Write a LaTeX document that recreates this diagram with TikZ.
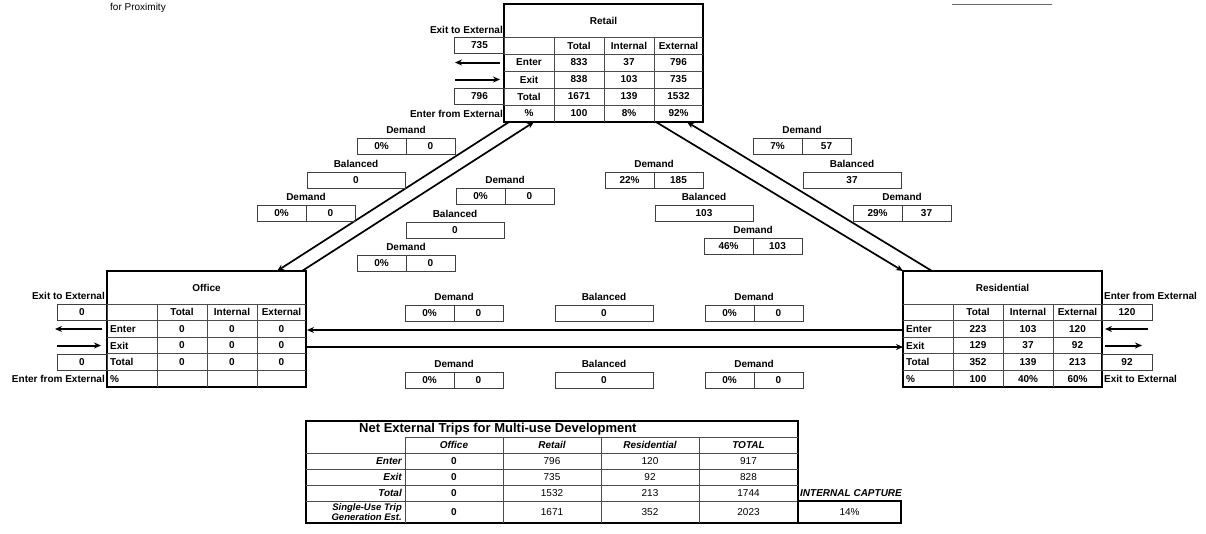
\documentclass[tikz,border=0pt]{standalone}
\usepackage{fontspec}
\setmainfont{Liberation Sans}
\usetikzlibrary{positioning,arrows.meta}

\newcommand{\tabfont}{\fontsize{10}{12}\selectfont\bfseries}
\newcommand{\lblfont}{\fontsize{10}{12}\selectfont\bfseries}
\newcommand{\numfont}{\fontsize{10}{12}\selectfont}

\tikzset{
  cell/.style={font=\tabfont, inner sep=0pt},
  lbl/.style={font=\lblfont, inner sep=0pt},
  frame/.style={line width=1.8pt},
  gridln/.style={line width=0.8pt, black!70},
  half/.style={draw=black!75, line width=0.8pt, minimum width=49pt, minimum height=16pt,
               inner sep=0pt, outer sep=0pt, font=\tabfont},
  full/.style={half, minimum width=98pt},
  flow/.style={-{Stealth[length=7pt,width=6pt]}, line width=1.7pt},
  extflow/.style={flow, line width=2pt},
}

% Demand box: name, left x, top y, share, trips
\newcommand{\demandpair}[5]{%
  \node[lbl] (#1t) at ({#2+49},{#3-8}) {Demand};
  \node[half, anchor=north west] (#1a) at (#2,#3) {#4};
  \node[half, right=0pt of #1a] (#1b) {#5};
}
% Balanced box: name, left x, top y, trips
\newcommand{\balancedbox}[4]{%
  \node[lbl] (#1t) at ({#2+49},{#3-8}) {Balanced};
  \node[full, anchor=north west] (#1a) at (#2,#3) {#4};
}
% frame of a land use table: left x, top y, row height
\newcommand{\usegrid}[3]{%
  \draw[frame] (#1,#2) rectangle ({#1+199},{#2+33+5*#3});
  \foreach \k in {0,...,4}
    \draw[gridln] (#1,{#2+33+\k*#3}) -- ({#1+199},{#2+33+\k*#3});
  \foreach \k in {1,2,3}
    \draw[gridln] ({#1+\k*50},{#2+33}) -- ({#1+\k*50},{#2+33+5*#3});
}

\begin{document}
\begin{tikzpicture}[x=1pt, y=-1pt]
    \useasboundingbox (0,0) rectangle (1206,533);

    % Kopfzeile (oben abgeschnitten)
    \node[anchor=west, font=\fontsize{10}{12}\selectfont, inner sep=0pt] (prox) at (110,8) {for Proximity};
    \draw[black!60, line width=1.2pt] (952,4.5) -- (1052,4.5);

    % ---------------- Retail ----------------
    \usegrid{504}{4}{17}
    \node[cell] (rettitle) at (603.5,20.5) {Retail};
    \foreach \lab/\a/\b/\c [count=\i from 0] in
      {{}/Total/Internal/External, Enter/833/37/796, Exit/838/103/735,
       Total/1671/139/1532, \%/100/8\%/92\%} {
      \node[cell] (ret-\i-0) at (529,{45.5+17*\i}) {\lab};
      \node[cell] (ret-\i-1) at (579,{45.5+17*\i}) {\a};
      \node[cell] (ret-\i-2) at (629,{45.5+17*\i}) {\b};
      \node[cell] (ret-\i-3) at (678.5,{45.5+17*\i}) {\c};
    }
    % externe Wege Retail
    \node[lbl, anchor=east] (retexit) at (503,30) {Exit to External};
    \node[half, minimum width=50pt] (retout) at (479.5,45.5) {735};
    \node[half, minimum width=50pt] (retin) at (479.5,96.5) {796};
    \node[lbl, anchor=east] (retenter) at (503,113.5) {Enter from External};
    \coordinate (retA) at (500,62.5);  \coordinate (retB) at (455,62.5);
    \coordinate (retC) at (455,79.5);  \coordinate (retD) at (500,79.5);
    \draw[extflow] (retA) -- (retB);
    \draw[extflow] (retC) -- (retD);

    % ---------------- Office ----------------
    \usegrid{107}{271}{16.6}
    \node[cell] (offtitle) at (206.5,287.5) {Office};
    \foreach \lab/\a/\b/\c [count=\i from 0] in
      {{}/Total/Internal/External, Enter/0/0/0, Exit/0/0/0,
       Total/0/0/0, \%/{}/{}/{}} {
      \node[cell, anchor=west] (off-\i-0) at (110,{312.3+16.6*\i}) {\lab};
      \node[cell] (off-\i-1) at (182,{312.3+16.6*\i}) {\a};
      \node[cell] (off-\i-2) at (232,{312.3+16.6*\i}) {\b};
      \node[cell] (off-\i-3) at (281.5,{312.3+16.6*\i}) {\c};
    }
    % externe Wege Office
    \node[lbl, anchor=east] (offexit) at (105,296) {Exit to External};
    \node[half, minimum width=50pt] (offout) at (82,312.3) {0};
    \node[half, minimum width=50pt] (offin) at (82,362.1) {0};
    \node[lbl, anchor=east] (offenter) at (105,378.7) {Enter from External};
    \coordinate (offA) at (102,329);  \coordinate (offB) at (55,329);
    \coordinate (offC) at (57,345.5); \coordinate (offD) at (101,345.5);
    \draw[extflow] (offA) -- (offB);
    \draw[extflow] (offC) -- (offD);

    % ---------------- Residential ----------------
    \usegrid{903}{271}{16.6}
    \node[cell] (restitle) at (1002.5,287.5) {Residential};
    \foreach \lab/\a/\b/\c [count=\i from 0] in
      {{}/Total/Internal/External, Enter/223/103/120, Exit/129/37/92,
       Total/352/139/213, \%/100/40\%/60\%} {
      \node[cell, anchor=west] (res-\i-0) at (906,{312.3+16.6*\i}) {\lab};
      \node[cell] (res-\i-1) at (978,{312.3+16.6*\i}) {\a};
      \node[cell] (res-\i-2) at (1028,{312.3+16.6*\i}) {\b};
      \node[cell] (res-\i-3) at (1077.5,{312.3+16.6*\i}) {\c};
    }
    % externe Wege Residential
    \node[lbl, anchor=west] (resenter) at (1104,296) {Enter from External};
    \node[half, minimum width=50pt] (resin) at (1127,312.3) {120};
    \node[half, minimum width=50pt] (resout) at (1127,362.1) {92};
    \node[lbl, anchor=west] (resexit) at (1104,378.7) {Exit to External};
    \coordinate (resA) at (1148,329);  \coordinate (resB) at (1105,329);
    \coordinate (resC) at (1105,345.5); \coordinate (resD) at (1142,345.5);
    \draw[extflow] (resA) -- (resB);
    \draw[extflow] (resC) -- (resD);

    % ---------------- interne Wege ----------------
    \coordinate (r1) at (509,122);  \coordinate (o1) at (277,271);
    \coordinate (o2) at (302,271);  \coordinate (r2) at (534,122);
    \coordinate (r3) at (656,122);  \coordinate (s1) at (903,271);
    \coordinate (s2) at (932,271);  \coordinate (r4) at (687,122);
    \coordinate (s3) at (903,330);  \coordinate (o3) at (307,330);
    \coordinate (o4) at (307,347);  \coordinate (s4) at (903,347);
    \draw[flow] (r1) -- (o1);
    \draw[flow] (o2) -- (r2);
    \draw[flow] (r3) -- (s1);
    \draw[flow] (s2) -- (r4);
    \draw[flow] (s3) -- (o3);
    \draw[flow] (o4) -- (s4);

    % Office - Retail
    \demandpair{dA}{357}{138}{0\%}{0}
    \balancedbox{bA}{307}{172}{0}
    \demandpair{dB}{257}{205}{0\%}{0}
    \demandpair{dC}{456}{188}{0\%}{0}
    \balancedbox{bB}{406}{222}{0}
    \demandpair{dD}{357}{255}{0\%}{0}

    % Retail - Residential
    \demandpair{dE}{753}{138}{7\%}{57}
    \demandpair{dF}{605}{172}{22\%}{185}
    \balancedbox{bC}{803}{172}{37}
    \balancedbox{bD}{655}{205}{103}
    \demandpair{dG}{853}{205}{29\%}{37}
    \demandpair{dH}{704}{238}{46\%}{103}

    % Office - Residential
    \demandpair{dI}{405}{305}{0\%}{0}
    \balancedbox{bE}{555}{305}{0}
    \demandpair{dJ}{705}{305}{0\%}{0}
    \demandpair{dK}{405}{372}{0\%}{0}
    \balancedbox{bF}{555}{372}{0}
    \demandpair{dL}{705}{372}{0\%}{0}

    % ---------------- Net External Trips ----------------
    \draw[line width=1.3pt] (306,421) rectangle (798,523);
    \draw[gridln] (405,437) -- (798,437);
    \foreach \y in {453,469,485,501} \draw[gridln] (306,\y) -- (798,\y);
    \foreach \x in {405,503,601,699} \draw[gridln] (\x,437) -- (\x,523);
    \node[anchor=west, font=\fontsize{13}{15}\selectfont\bfseries, inner sep=0pt] (nettitle) at (359,429) {Net External Trips for Multi-use Development};
    \foreach \h/\x [count=\j] in {Office/454, Retail/552, Residential/650, TOTAL/748.5}
      \node[cell, font=\tabfont\itshape] (net-0-\j) at (\x,445) {\h};
    \foreach \lab/\y/\a/\b/\c/\d [count=\i] in
      {Enter/461/0/796/120/917, Exit/477/0/735/92/828, Total/493/0/1532/213/1744} {
      \node[cell, font=\tabfont\itshape, anchor=east] (net-\i-0) at (402,\y) {\lab};
      \node[cell] (net-\i-1) at (454,\y) {\a};
      \node[cell, font=\numfont] (net-\i-2) at (552,\y) {\b};
      \node[cell, font=\numfont] (net-\i-3) at (650,\y) {\c};
      \node[cell, font=\numfont] (net-\i-4) at (748.5,\y) {\d};
    }
    \node[cell, font=\fontsize{9.5}{10.5}\selectfont\bfseries\itshape, anchor=east, align=right] (net-4-0) at (402,512) {Single-Use Trip\\Generation Est.};
    \node[cell] (net-4-1) at (454,512) {0};
    \node[cell, font=\numfont] (net-4-2) at (552,512) {1671};
    \node[cell, font=\numfont] (net-4-3) at (650,512) {352};
    \node[cell, font=\numfont] (net-4-4) at (748.5,512) {2023};

    % Internal capture
    \node[lbl, font=\lblfont\itshape, anchor=west] (captitle) at (800,493) {INTERNAL CAPTURE};
    \node[draw, line width=1.6pt, minimum width=103pt, minimum height=22pt, inner sep=0pt,
          outer sep=0pt, font=\numfont, anchor=north west] (capture) at (798,501) {14\%};
\end{tikzpicture}
\end{document}
